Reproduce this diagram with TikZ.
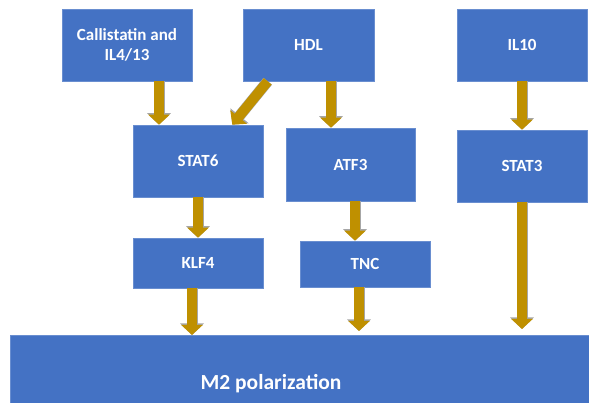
\documentclass[tikz,border=0pt]{standalone}
\usepackage{fontspec}
\setmainfont{Carlito}
\usetikzlibrary{arrows.meta,positioning}
\definecolor{boxblue}{HTML}{4472C4}
\definecolor{arrowgold}{HTML}{BF9000}
\tikzset{
  box/.style={rectangle, fill=boxblue, draw=boxblue!80!white, line width=0.6pt,
    text=white, font=\bfseries\fontsize{17}{20}\selectfont, align=center, inner sep=0pt},
  flow/.style={draw=arrowgold, line width=10pt, -{Triangle[width=21pt,length=10pt]},
    preaction={draw=gray!70, line width=11pt, -{Triangle[width=23pt,length=11.5pt]}}},
}
\begin{document}
\begin{tikzpicture}[x=1pt,y=-1pt]
		\clip (0,0) rectangle (589,403);
		
		% top row
		\node[box, minimum width=130pt, minimum height=72pt] (call) at (127,45) {Callistatin and\\IL4/13};
		\node[box, minimum width=131pt, minimum height=72pt] (hdl) at (308.5,45) {HDL};
		\node[box, minimum width=130pt, minimum height=72pt] (il10) at (522,45) {IL10};
		
		% middle row
		\node[box, minimum width=130pt, minimum height=72pt] (stat6) at (198,161) {STAT6};
		\node[box, minimum width=129pt, minimum height=73pt] (atf3) at (350.5,164.5) {ATF3};
		\node[box, minimum width=130pt, minimum height=72pt] (stat3) at (522,166) {STAT3};
		
		\node[box, minimum width=130pt, minimum height=50pt] (klf4) at (198,263) {KLF4};
		\node[box, minimum width=130pt, minimum height=46pt] (tnc) at (365,264) {TNC};
		
		% bottom
		\node[box, anchor=north west, minimum width=600pt, minimum height=96pt] (m2) at (10,335) {};
		\node[text=white, font=\bfseries\fontsize{21.5}{25}\selectfont] (m2text) at ([xshift=261pt]m2.west) {M2 polarization};
		
		% arrows
		\draw[flow] ([xshift=32]call.south) -- ([xshift=-39]stat6.north);
		\draw[flow] ([xshift=25]hdl.south west) -- ([xshift=-31]stat6.north east);
		\draw[flow] ([xshift=22.5]hdl.south) -- ([xshift=-19.5]atf3.north);
		\draw[flow] (stat6.south) -- (klf4.north);
		\draw[flow] ([xshift=4.5]atf3.south) -- ([xshift=-10]tnc.north);
		\draw[flow] ([xshift=-6]klf4.south) coordinate (k) -- (k |- m2.north);
		\draw[flow, shorten >=4pt] ([xshift=-6]tnc.south) coordinate (t) -- (t |- m2.north);
		\draw[flow] (il10.south) -- (stat3.north);
		\draw[flow, shorten >=6pt] (stat3.south) -- (stat3.south |- m2.north);
		
\end{tikzpicture}
\end{document}
